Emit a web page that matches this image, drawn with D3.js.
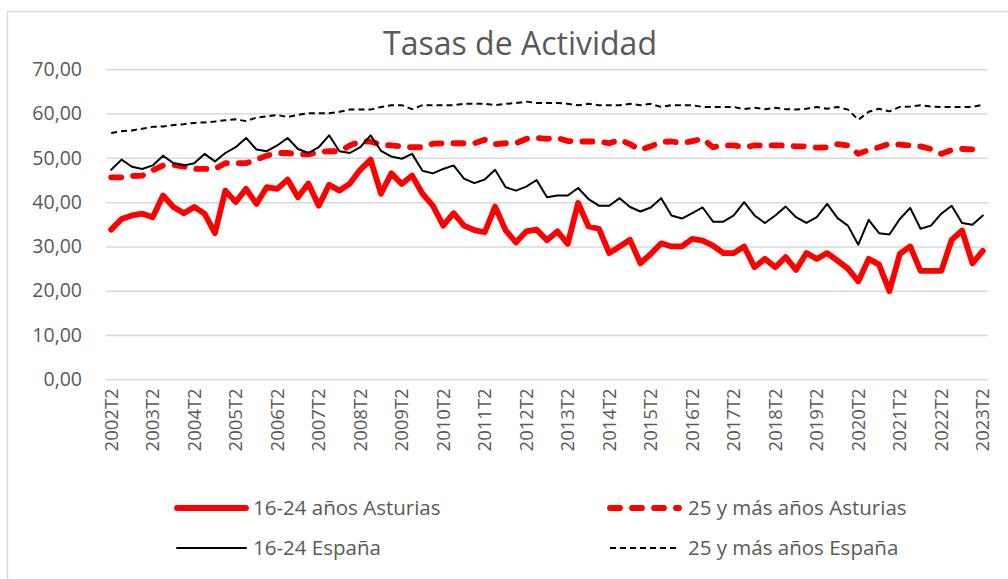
<!DOCTYPE html>
<html><head><meta charset="utf-8">
<script src="https://cdn.jsdelivr.net/npm/d3@7"></script>
<style>
html,body{margin:0;padding:0;background:#fff;}
svg{display:block;font-family:"Open Sans",sans-serif;}
</style></head>
<body><svg id="chart" width="1008" height="579"></svg>
<script>
const categories = [
"2002T2","2002T3","2002T4","2003T1","2003T2","2003T3","2003T4","2004T1","2004T2","2004T3","2004T4","2005T1",
"2005T2","2005T3","2005T4","2006T1","2006T2","2006T3","2006T4","2007T1","2007T2","2007T3","2007T4","2008T1",
"2008T2","2008T3","2008T4","2009T1","2009T2","2009T3","2009T4","2010T1","2010T2","2010T3","2010T4","2011T1",
"2011T2","2011T3","2011T4","2012T1","2012T2","2012T3","2012T4","2013T1","2013T2","2013T3","2013T4","2014T1",
"2014T2","2014T3","2014T4","2015T1","2015T2","2015T3","2015T4","2016T1","2016T2","2016T3","2016T4","2017T1",
"2017T2","2017T3","2017T4","2018T1","2018T2","2018T3","2018T4","2019T1","2019T2","2019T3","2019T4","2020T1",
"2020T2","2020T3","2020T4","2021T1","2021T2","2021T3","2021T4","2022T1","2022T2","2022T3","2022T4","2023T1",
"2023T2"];

const asturias1624 = [
33.8,36.2,37.0,37.4,36.6,41.5,38.9,37.5,38.9,37.4,
33.0,42.6,40.0,43.0,39.6,43.4,43.0,45.1,41.1,44.2,
39.2,43.9,42.6,44.2,47.3,49.6,41.9,46.5,44.1,46.0,
41.9,39.2,34.7,37.5,34.7,33.7,33.2,39.0,33.7,30.9,
33.4,33.8,31.4,33.4,30.6,39.8,34.5,34.0,28.5,30.0,
31.5,26.2,28.3,30.7,30.0,30.0,31.7,31.3,30.2,28.5,
28.5,30.0,25.3,27.2,25.3,27.6,24.7,28.5,27.2,28.5,
26.8,25.0,22.1,27.2,25.9,19.9,28.3,30.0,24.5,24.5,
24.5,31.5,33.6,26.2,29.0];

const asturias25 = [
45.6,45.6,45.9,46.0,47.2,48.3,48.4,48.0,47.5,47.5,
47.5,48.8,48.8,48.8,49.6,50.5,51.1,51.1,50.8,50.8,
51.3,51.5,51.5,52.8,53.7,53.7,53.0,52.8,52.6,52.4,
52.4,53.2,53.3,53.3,53.3,53.3,54.1,53.1,53.3,53.3,
54.3,54.5,54.3,54.5,53.8,53.7,53.7,53.7,53.3,54.1,
53.1,51.8,52.6,53.6,53.7,53.3,53.8,54.3,52.4,52.8,
52.8,52.4,52.8,52.8,52.8,52.8,52.6,52.6,52.3,52.4,
53.1,52.8,50.9,51.8,52.4,53.2,53.0,52.8,52.6,52.0,
50.9,51.8,52.0,51.9,52.0];

const espana1624 = [
47.3,49.6,48.0,47.5,48.3,50.5,48.8,48.3,48.8,50.9,
49.2,51.1,52.4,54.5,51.9,51.5,52.8,54.5,52.0,51.1,
52.4,55.1,51.5,51.1,52.4,55.1,51.6,50.3,49.8,50.9,
47.1,46.5,47.5,48.3,45.3,44.3,45.1,47.3,43.4,42.6,
43.5,45.0,41.1,41.5,41.5,43.2,40.7,39.2,39.2,40.9,
38.9,37.9,38.8,40.9,37.0,36.3,37.5,38.8,35.6,35.6,
37.0,40.0,37.0,35.3,37.0,39.0,36.6,35.3,36.6,39.6,
36.4,34.7,30.4,36.0,33.0,32.7,36.2,38.7,34.0,34.7,
37.4,39.2,35.3,34.9,37.0];

const espana25 = [
55.6,56.0,56.2,56.6,57.0,57.1,57.4,57.6,57.9,58.0,
58.2,58.5,58.7,58.3,59.1,59.4,59.7,59.2,59.7,60.1,
60.1,60.1,60.4,60.9,60.9,60.9,61.5,61.9,61.9,61.0,
61.9,61.9,61.9,61.9,62.2,62.2,62.2,61.9,62.2,62.4,
62.7,62.4,62.4,62.4,62.2,61.9,62.2,61.9,61.9,61.9,
62.2,61.9,62.2,61.5,61.9,61.9,61.9,61.5,61.5,61.5,
61.5,61.0,61.3,61.0,61.3,61.0,60.9,61.1,61.5,61.1,
61.5,60.9,58.6,60.4,61.1,60.5,61.5,61.6,61.9,61.6,
61.5,61.5,61.5,61.5,62.0];

const seriesNames = ["16-24 años Asturias","25 y más años Asturias","16-24 España","25 y más años España"];
const yTicks = [0,10,20,30,40,50,60,70];
const xTickLabels = categories.filter(c => c.endsWith("T2"));
const chartTitle = "Tasas de Actividad";

const series = [
  {name: seriesNames[0], values: asturias1624, color:"#ff0000", width:5.8, dash:null, cap:"round"},
  {name: seriesNames[1], values: asturias25, color:"#ff0000", width:5.8, dash:"10,12", cap:"round"},
  {name: seriesNames[2], values: espana1624, color:"#000000", width:2, dash:null, cap:"round"},
  {name: seriesNames[3], values: espana25, color:"#000000", width:2, dash:"6,4", cap:"butt"}
];

const svg = d3.select("#chart");
const textColor = "#595959";

// frame
svg.append("rect").attr("x",7.5).attr("y",11.5).attr("width",1020).attr("height",600)
  .attr("fill","#fff").attr("stroke","#d9d9d9").attr("stroke-width",1.5);

const pL = 106, pR = 988, pT = 69.3, pB = 379.3;
const x = d3.scaleBand().domain(categories).range([pL, pR]).padding(0);
const y = d3.scaleLinear().domain([0,70]).range([pB, pT]);
const cx = c => x(c) + x.bandwidth()/2;

// title
svg.append("text").attr("x", 520).attr("y", 55).attr("text-anchor","middle")
  .attr("fill", textColor).attr("font-size", 32).text(chartTitle);

// y axis with gridlines
const fmt = d => d3.format(".2f")(d).replace(".", ",");
const yAxis = svg.append("g").attr("transform", `translate(${pL},0)`)
  .call(d3.axisLeft(y).tickValues(yTicks).tickFormat(fmt).tickSize(-(pR-pL)).tickPadding(24));
yAxis.select(".domain").remove();
yAxis.selectAll(".tick line").attr("stroke","#d9d9d9").attr("stroke-width",1.5);
yAxis.selectAll(".tick text").attr("fill", textColor).attr("font-size", 19.5)
  .attr("font-family","Open Sans, sans-serif");

// x axis labels
const xAxis = svg.append("g").attr("transform", `translate(0,${pB})`)
  .call(d3.axisBottom(x).tickValues(xTickLabels).tickSize(0));
xAxis.select(".domain").remove();
xAxis.selectAll(".tick text")
  .attr("transform","rotate(-90)")
  .attr("text-anchor","end")
  .attr("x", -9).attr("y", 0).attr("dy","0.35em")
  .attr("fill", textColor).attr("font-size", 18.5)
  .attr("font-family","Open Sans, sans-serif");

// lines
const line = d3.line().x((d,i) => cx(categories[i])).y(d => y(d));
series.forEach(s => {
  svg.append("path").datum(s.values)
    .attr("d", line)
    .attr("fill","none")
    .attr("stroke", s.color)
    .attr("stroke-width", s.width)
    .attr("stroke-linejoin","round")
    .attr("stroke-linecap", s.cap)
    .attr("stroke-dasharray", s.dash);
});

// legend
const legendPos = [
  {lx:177, ty:508}, {lx:610, ty:508}, {lx:177, ty:548}, {lx:610, ty:548}
];
series.forEach((s,k) => {
  const p = legendPos[k];
  const g = svg.append("g");
  g.append("line").attr("x1", p.lx).attr("x2", p.lx + 69).attr("y1", p.ty).attr("y2", p.ty)
    .attr("stroke", s.color).attr("stroke-width", s.width)
    .attr("stroke-linecap", s.cap).attr("stroke-dasharray", s.dash);
  g.append("text").attr("x", p.lx + (k%2===0 ? 76 : 78)).attr("y", p.ty).attr("dy","0.35em")
    .attr("fill", textColor).attr("font-size", 20.5).text(s.name);
});
</script>
</body></html>
